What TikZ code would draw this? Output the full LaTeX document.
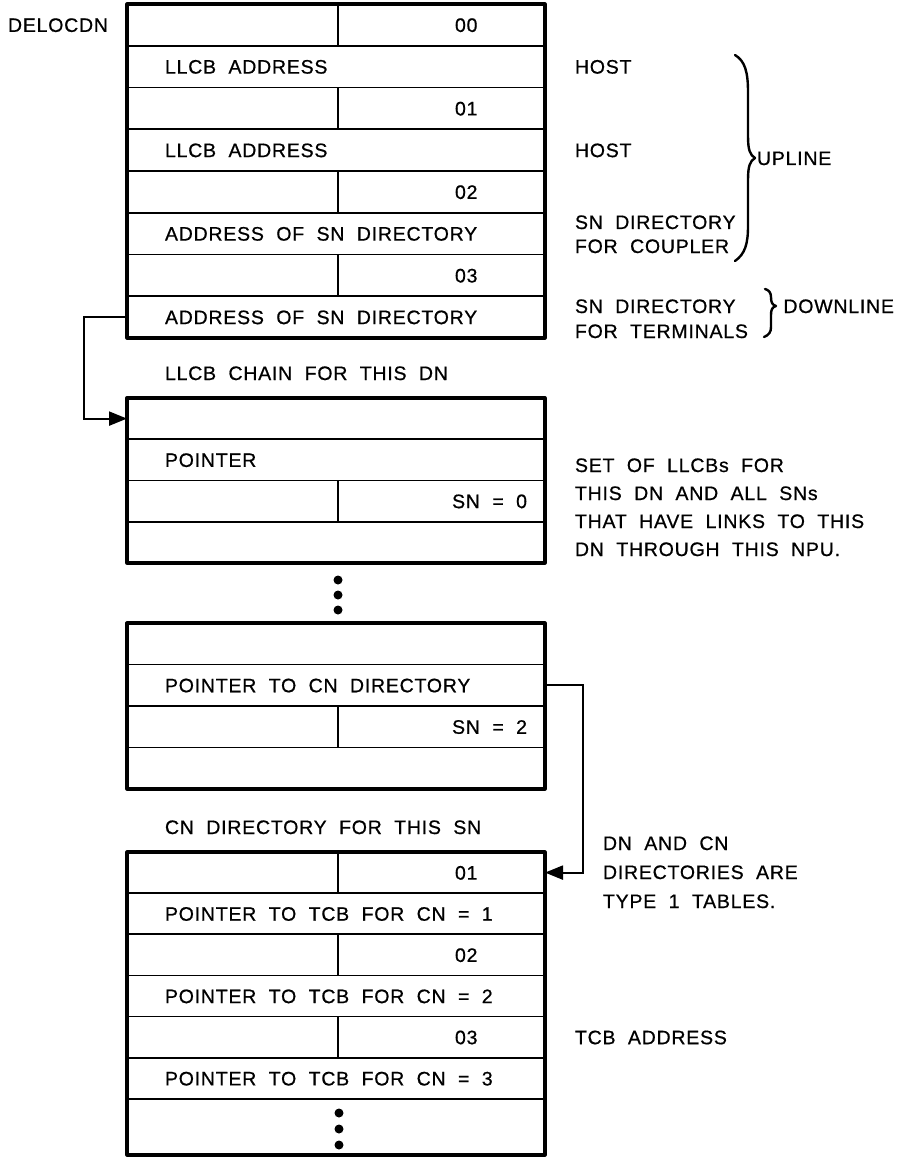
\documentclass[tikz,border=0pt]{standalone}
\usepackage{fontspec}
\setmainfont{Liberation Sans}[LetterSpace=4,WordSpace=2,FakeBold=0.7]
\usetikzlibrary{arrows.meta}
\begin{document}
\begin{tikzpicture}[x=1pt,y=-1pt,
  lbl/.style={inner sep=0pt, outer sep=0pt, text height=14pt, text depth=0pt, font=\fontsize{19.5}{23}\selectfont},
  cellrow/.style={draw, line width=1.6pt, inner sep=0pt, outer sep=0pt, minimum width=418pt},
  frame/.style={line width=3.2pt, line join=round},
  divider/.style={line width=1.6pt},
  conn/.style={line width=2.2pt},
  tip/.style={-{Triangle[length=18pt,width=14pt]}},
  dotmark/.style={circle, fill, inner sep=0pt, minimum size=9pt},
  bracepath/.style={line width=2.4pt, line cap=round, line join=round},
]
\useasboundingbox (0,0) rectangle (896,1158);

% ---------- Table 1 ----------
\node[cellrow, minimum height=41.75pt] (a1) at (336,24.9) {};
\node[cellrow, minimum height=41.75pt] (a2) at (336,66.6) {};
\node[cellrow, minimum height=41.75pt] (a3) at (336,108.4) {};
\node[cellrow, minimum height=41.75pt] (a4) at (336,150.1) {};
\node[cellrow, minimum height=41.75pt] (a5) at (336,191.9) {};
\node[cellrow, minimum height=41.75pt] (a6) at (336,233.6) {};
\node[cellrow, minimum height=41.75pt] (a7) at (336,275.4) {};
\node[cellrow, minimum height=41.75pt] (a8) at (336,317.1) {};
\draw[frame] (a1.north west) rectangle (a8.south east);
\draw[divider] (338,4) -- (338,45.75);
\draw[divider] (338,87.5) -- (338,129.25);
\draw[divider] (338,171) -- (338,212.75);
\draw[divider] (338,254.5) -- (338,296.25);

\node[lbl, anchor=west] (delocdn) at (8,24.9) {DELOCDN};
\node[lbl, anchor=west] (n00) at (455,24.9) {00};
\node[lbl, anchor=west] (t12) at (165,66.6) {LLCB ADDRESS};
\node[lbl, anchor=west] (n01) at (455,108.4) {01};
\node[lbl, anchor=west] (t14) at (165,150.1) {LLCB ADDRESS};
\node[lbl, anchor=west] (n02) at (455,191.9) {02};
\node[lbl, anchor=west] (t16) at (165,233.6) {ADDRESS OF SN DIRECTORY};
\node[lbl, anchor=west] (n03) at (455,275.4) {03};
\node[lbl, anchor=west] (t18) at (165,317.1) {ADDRESS OF SN DIRECTORY};

% right labels, top
\node[lbl, anchor=west] (host1) at (575,66.6) {HOST};
\node[lbl, anchor=west] (host2) at (575,150.1) {HOST};
\node[lbl, anchor=west] (sndir1) at (575,222) {SN DIRECTORY};
\node[lbl, anchor=west] (forcoup) at (575,246) {FOR COUPLER};
\node[lbl, anchor=west] (sndir2) at (575,306) {SN DIRECTORY};
\node[lbl, anchor=west] (forterm) at (575,331) {FOR TERMINALS};
\node[lbl, anchor=west] (upline) at (757,158) {UPLINE};
\node[lbl, anchor=east] (downline) at (894,306) {DOWNLINE};

% braces
\draw[bracepath] (735,55) .. controls (745,61) and (748,72) .. (748,92)
  -- (748,136) .. controls (748,150) and (750,155) .. (755,158)
  .. controls (750,161) and (748,166) .. (748,180)
  -- (748,226) .. controls (748,244) and (745,254) .. (735,261);
\draw[bracepath] (765,289) .. controls (769,290) and (771,293) .. (771,297)
  .. controls (771,302) and (772,305) .. (776,306)
  .. controls (772,307) and (771,310) .. (771,315)
  -- (771,327) .. controls (771,332) and (769,335) .. (764,337);

% ---------- Table 2 ----------
\node[lbl, anchor=west] (chain) at (165,373) {LLCB CHAIN FOR THIS DN};
\node[cellrow, minimum height=41.25pt] (b1) at (336,418.6) {};
\node[cellrow, minimum height=41.25pt] (b2) at (336,459.9) {};
\node[cellrow, minimum height=41.25pt] (b3) at (336,501.1) {};
\node[cellrow, minimum height=41.25pt] (b4) at (336,542.4) {};
\draw[frame] (b1.north west) rectangle (b4.south east);
\draw[divider] (338,480.5) -- (338,521.75);
\node[lbl, anchor=west] (ptr) at (165,459.9) {POINTER};
\node[lbl, anchor=east] (sn0) at (527,501.1) {SN = 0};

\node[lbl, anchor=west] (set1) at (575,465) {SET OF LLCBs FOR};
\node[lbl, anchor=west] (set2) at (575,493) {THIS DN AND ALL SNs};
\node[lbl, anchor=west] (set3) at (575,521) {THAT HAVE LINKS TO THIS};
\node[lbl, anchor=west] (set4) at (575,549) {DN THROUGH THIS NPU.};

\draw[conn, tip] (a8.west) -- ++(-43,0) |- (b1.west);

% dots
\node[dotmark] (dt1) at (338,580) {};
\node[dotmark] (dt2) at (338,595) {};
\node[dotmark] (dt3) at (338,610) {};

% ---------- Table 3 ----------
\node[cellrow, minimum height=41.5pt] (c1) at (336,643.75) {};
\node[cellrow, minimum height=41.5pt] (c2) at (336,685.25) {};
\node[cellrow, minimum height=41.5pt] (c3) at (336,726.75) {};
\node[cellrow, minimum height=41.5pt] (c4) at (336,768.25) {};
\draw[frame] (c1.north west) rectangle (c4.south east);
\draw[divider] (338,706) -- (338,747.5);
\node[lbl, anchor=west] (ptrcn) at (165,685.25) {POINTER TO CN DIRECTORY};
\node[lbl, anchor=east] (sn2) at (527,726.75) {SN = 2};

% ---------- Table 4 ----------
\node[lbl, anchor=west] (cndir) at (165,827) {CN DIRECTORY FOR THIS SN};
\node[cellrow, minimum height=41.17pt] (d1) at (336,872.6) {};
\node[cellrow, minimum height=41.17pt] (d2) at (336,913.7) {};
\node[cellrow, minimum height=41.17pt] (d3) at (336,954.9) {};
\node[cellrow, minimum height=41.17pt] (d4) at (336,996.1) {};
\node[cellrow, minimum height=41.17pt] (d5) at (336,1037.2) {};
\node[cellrow, minimum height=41.17pt] (d6) at (336,1078.4) {};
\node[cellrow, minimum height=56pt] (d7) at (336,1127) {};
\draw[frame] (d1.north west) rectangle (d7.south east);
\draw[divider] (338,852) -- (338,893.2);
\draw[divider] (338,934.3) -- (338,975.5);
\draw[divider] (338,1016.7) -- (338,1057.8);
\node[lbl, anchor=west] (m01) at (455,872.6) {01};
\node[lbl, anchor=west] (tcb1) at (165,913.7) {POINTER TO TCB FOR CN = 1};
\node[lbl, anchor=west] (m02) at (455,954.9) {02};
\node[lbl, anchor=west] (tcb2) at (165,996.1) {POINTER TO TCB FOR CN = 2};
\node[lbl, anchor=west] (m03) at (455,1037.2) {03};
\node[lbl, anchor=west] (tcb3) at (165,1078.4) {POINTER TO TCB FOR CN = 3};
\node[dotmark] (de1) at (339,1113) {};
\node[dotmark] (de2) at (339,1129) {};
\node[dotmark] (de3) at (339,1145) {};

\node[lbl, anchor=west] (dn1) at (603,843) {DN AND CN};
\node[lbl, anchor=west] (dn2) at (603,872) {DIRECTORIES ARE};
\node[lbl, anchor=west] (dn3) at (603,901) {TYPE 1 TABLES.};
\node[lbl, anchor=west] (tcbaddr) at (575,1037.2) {TCB ADDRESS};

\draw[conn, tip] (c2.east) -- ++(38,0) |- (d1.east);
\end{tikzpicture}
\end{document}
